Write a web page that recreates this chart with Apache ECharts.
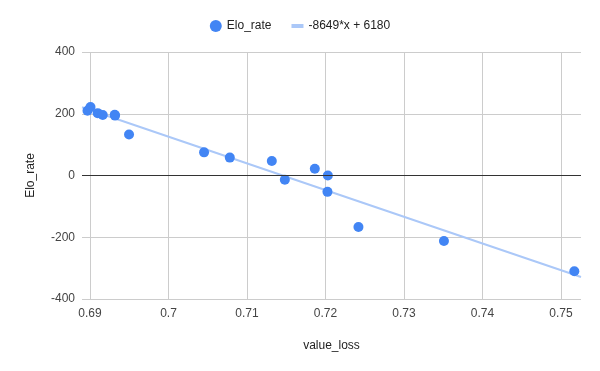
<!DOCTYPE html>
<html><head><meta charset="utf-8">
<script src="https://cdn.jsdelivr.net/npm/echarts@6/dist/echarts.min.js"></script>
<style>html,body{margin:0;padding:0;background:#fff}#c{width:600px;height:371px}</style>
</head><body><div id="c"></div>
<script>
const valueLoss = [0.68968, 0.69006, 0.69098, 0.69162, 0.69319, 0.69315, 0.69497, 0.70453, 0.70781, 0.71316, 0.71482, 0.71864, 0.7203, 0.72025, 0.7242, 0.73509, 0.7517];
const eloRate   = [210, 222, 202, 196, 194, 197, 133, 75, 58, 47, -14, 22, 0, -53, -167, -212, -310];
const trendSlope = -8649;
const trendIntercept = 6180;
const xTicks = [0.69, 0.70, 0.71, 0.72, 0.73, 0.74, 0.75];
const xRange = [0.68898, 0.75255];
const yRange = [-400, 400];

const scatterData = valueLoss.map((v, i) => [v, eloRate[i]]);
const trendData = xRange.map(x => [x, trendSlope * x + trendIntercept]);
const trendName = trendSlope + '*x + ' + trendIntercept;
const FONT = 'Arial, "Liberation Sans", sans-serif';

const chart = echarts.init(document.getElementById('c'), null, {renderer: 'canvas'});
chart.setOption({
  animation: false,
  textStyle: {fontFamily: FONT},
  legend: {
    top: 15, left: 'center',
    itemWidth: 12, itemHeight: 12, itemGap: 20,
    textStyle: {fontFamily: FONT, fontSize: 12, color: '#222'},
    data: [
      {name: 'Elo_rate', icon: 'circle'},
      {name: trendName, icon: 'path://M0,0 L12,0 L12,4 L0,4 Z'}
    ]
  },
  grid: {left: 82, right: 19, top: 52, bottom: 72},
  xAxis: {
    type: 'value', min: xRange[0], max: xRange[1],
    name: 'value_loss', nameLocation: 'middle', nameGap: 41,
    nameTextStyle: {fontFamily: FONT, fontSize: 12, color: '#222'},
    axisLine: {show: false},
    axisTick: {show: false, customValues: xTicks},
    axisLabel: {customValues: xTicks, fontFamily: FONT, fontSize: 12, color: '#444', margin: 9, formatter: v => String(+v.toFixed(2))},
    splitLine: {show: true, lineStyle: {color: '#cccccc', width: 1}}
  },
  yAxis: {
    type: 'value', min: yRange[0], max: yRange[1], interval: 200,
    name: 'Elo_rate', nameLocation: 'middle', nameGap: 45, nameRotate: 90,
    nameTextStyle: {fontFamily: FONT, fontSize: 12, color: '#222'},
    axisLine: {show: false},
    axisTick: {show: false},
    axisLabel: {fontFamily: FONT, fontSize: 12, color: '#444', margin: 7},
    splitLine: {show: true, lineStyle: {color: '#cccccc', width: 1}}
  },
  series: [
    {
      name: trendName, type: 'line', data: trendData, symbol: 'none',
      lineStyle: {color: '#abc8f8', width: 2}, itemStyle: {color: '#abc8f8'},
      z: 1, silent: true,
      markLine: {
        silent: true, symbol: 'none', label: {show: false},
        lineStyle: {color: '#333333', width: 1, type: 'solid'},
        data: [{yAxis: 0}]
      }
    },
    {
      name: 'Elo_rate', type: 'scatter', data: scatterData,
      symbolSize: 10, itemStyle: {color: '#4285f4', opacity: 1}, z: 3
    }
  ]
});
</script>
</body></html>
